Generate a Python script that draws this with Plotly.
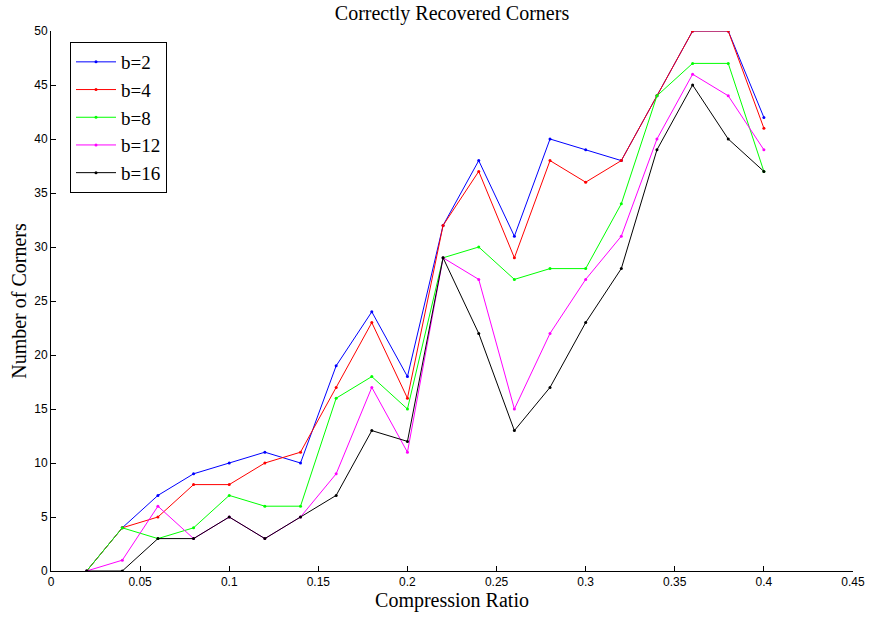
import plotly.graph_objects as go

ratios = [0.02, 0.04, 0.06, 0.08, 0.10, 0.12, 0.14, 0.16, 0.18, 0.20,
          0.22, 0.24, 0.26, 0.28, 0.30, 0.32, 0.34, 0.36, 0.38, 0.40]
b2 = [0, 4, 7, 9, 10, 11, 10, 19, 24, 18, 32, 38, 31, 40, 39, 38, 44, 50, 50, 42]
b4 = [0, 4, 5, 8, 8, 10, 11, 17, 23, 16, 32, 37, 29, 38, 36, 38, 44, 50, 50, 41]
b8 = [0, 4, 3, 4, 7, 6, 6, 16, 18, 15, 29, 30, 27, 28, 28, 34, 44, 47, 47, 37]
b12 = [0, 1, 6, 3, 5, 3, 5, 9, 17, 11, 29, 27, 15, 22, 27, 31, 40, 46, 44, 39]
b16 = [0, 0, 3, 3, 5, 3, 5, 7, 13, 12, 29, 22, 13, 17, 23, 28, 39, 45, 40, 37]

series = [("b=2", b2, "#0000ff"), ("b=4", b4, "#ff0000"), ("b=8", b8, "#00ff00"),
          ("b=12", b12, "#ff00ff"), ("b=16", b16, "#000000")]

x_ticks = [0, 0.05, 0.1, 0.15, 0.2, 0.25, 0.3, 0.35, 0.4, 0.45]
x_tick_text = ["0", "0.05", "0.1", "0.15", "0.2", "0.25", "0.3", "0.35", "0.4", "0.45"]
y_ticks = [0, 5, 10, 15, 20, 25, 30, 35, 40, 45, 50]

serif = "Liberation Serif, DejaVu Serif, serif"
sans = "Liberation Sans, Arial, sans-serif"

fig = go.Figure()
for name, vals, col in series:
    fig.add_trace(go.Scatter(x=ratios, y=vals, name=name, mode="lines+markers",
                             line=dict(color=col, width=1),
                             marker=dict(color=col, size=3)))

fig.update_layout(
    width=870, height=617,
    margin=dict(l=51, r=17, t=31, b=46, autoexpand=False),
    paper_bgcolor="white", plot_bgcolor="white",
    title=dict(text="Correctly Recovered Corners", x=0.5, xanchor="center",
               xref="paper", y=1 - 13 / 617, yanchor="middle",
               font=dict(family=serif, size=20, color="black")),
    xaxis=dict(range=[0, 0.45], tickvals=x_ticks, ticktext=x_tick_text,
               ticks="inside", ticklen=5, tickcolor="black", showgrid=False,
               zeroline=False, showline=True, linecolor="black", linewidth=1,
               automargin=False,
               tickfont=dict(family=sans, size=12, color="black"),
               title=dict(text="Compression Ratio", standoff=2,
                          font=dict(family=serif, size=20, color="black"))),
    yaxis=dict(range=[0, 50], tickvals=y_ticks,
               ticks="inside", ticklen=5, tickcolor="black", showgrid=False,
               zeroline=False, showline=True, linecolor="black", linewidth=1,
               automargin=False,
               tickfont=dict(family=sans, size=12, color="black"),
               title=dict(text="Number of Corners", standoff=2,
                          font=dict(family=serif, size=20, color="black"))),
    legend=dict(x=(70 - 51) / 802, y=(571 - 42) / 540, xanchor="left", yanchor="top",
                bordercolor="black", borderwidth=1, bgcolor="white",
                font=dict(family=serif, size=19, color="black"),
                itemwidth=40, tracegroupgap=0),
    showlegend=True,
)

fig.write_html("out.html")
